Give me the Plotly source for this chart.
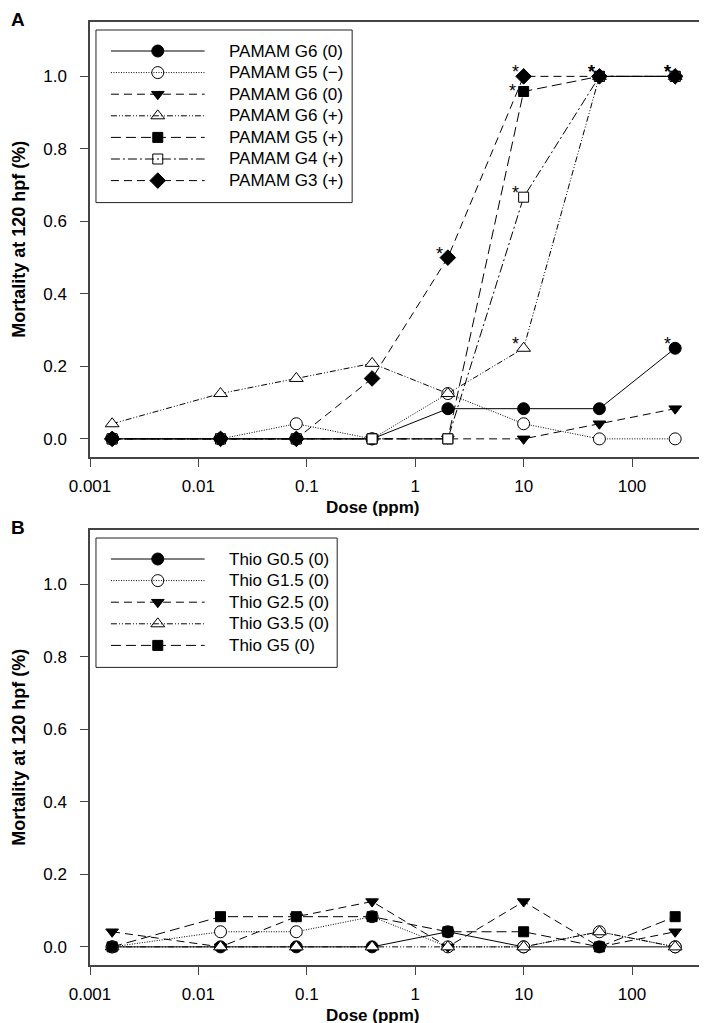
import math
import plotly.graph_objects as go

dose = [0.0016, 0.016, 0.08, 0.4, 2, 10, 50, 250]

pamam_names = ["PAMAM G6 (0)", "PAMAM G5 (\u2212)", "PAMAM G6 (0)", "PAMAM G6 (+)",
               "PAMAM G5 (+)", "PAMAM G4 (+)", "PAMAM G3 (+)"]
pamam_g6_0 = [0, 0, 0, 0, 0.0833, 0.0833, 0.0833, 0.25]
pamam_g5_neg = [0, 0, 0.0417, 0, 0.125, 0.0417, 0, 0]
pamam_g6_0b = [0, 0, 0, 0, 0, 0, 0.0417, 0.0833]
pamam_g6_pos = [0.0417, 0.125, 0.1667, 0.2083, 0.125, 0.25, 1.0, 1.0]
pamam_g5_pos = [0, 0, 0, 0, 0, 0.9583, 1.0, 1.0]
pamam_g4_pos = [0, 0, 0, 0, 0, 0.6667, 1.0, 1.0]
pamam_g3_pos = [0, 0, 0, 0.1667, 0.5, 1.0, 1.0, 1.0]
pamam_vals = [pamam_g6_0, pamam_g5_neg, pamam_g6_0b, pamam_g6_pos,
              pamam_g5_pos, pamam_g4_pos, pamam_g3_pos]
# dose indices marked with * (significant)
pamam_sig = [[7], [], [], [5, 6, 7], [5, 6, 7], [5, 6, 7], [4, 5, 6, 7]]

thio_names = ["Thio G0.5 (0)", "Thio G1.5 (0)", "Thio G2.5 (0)", "Thio G3.5 (0)", "Thio G5 (0)"]
thio_g05 = [0, 0, 0, 0, 0.0417, 0, 0, 0]
thio_g15 = [0, 0.0417, 0.0417, 0.0833, 0, 0, 0.0417, 0]
thio_g25 = [0.0417, 0, 0.0833, 0.125, 0, 0.125, 0, 0.0417]
thio_g35 = [0, 0, 0, 0, 0, 0, 0.0417, 0]
thio_g5 = [0, 0.0833, 0.0833, 0.0833, 0.0417, 0.0417, 0, 0.0833]
thio_vals = [thio_g05, thio_g15, thio_g25, thio_g35, thio_g5]

x_ticks = [0.001, 0.01, 0.1, 1, 10, 100]
x_ticktext = ["0.001", "0.01", "0.1", "1", "10", "100"]
y_ticks = [0, 0.2, 0.4, 0.6, 0.8, 1.0]

FONT = "Arial, Liberation Sans, sans-serif"

# (symbol, fill, dash) per series position
styles = [
    ("circle", "black", "solid"),
    ("circle", "white", "1px,1.5px"),
    ("triangle-down", "black", "8px,5px"),
    ("triangle-up", "white", "6px,2px,1px,2px,1px,2px"),
    ("square", "black", "10px,5px"),
    ("square", "white", "9px,3px,2px,3px"),
    ("diamond", "black", "8px,5px"),
]
sizes = {"circle": 12, "triangle-down": 11, "triangle-up": 12, "square": 10, "diamond": 12}

# plot area in pixels
L, R, T, B = 82, 703, 14, 957


def px(x):
    return (x - L) / (R - L)


def py(y):
    return (B - y) / (B - T)


fig = go.Figure()


def marker_of(i):
    sym, fill, dash = styles[i]
    return dict(symbol=sym, size=sizes[sym], color=fill, line=dict(color="black", width=1))


def add_series(names, vals, xa, ya):
    for i, (nm, v) in enumerate(zip(names, vals)):
        fig.add_trace(go.Scatter(
            x=dose, y=v, name=nm, mode="lines+markers", xaxis=xa, yaxis=ya, showlegend=False,
            line=dict(color="black", width=1, dash=styles[i][2]), marker=marker_of(i),
        ))


add_series(pamam_names, pamam_vals, "x", "y")
add_series(thio_names, thio_vals, "x2", "y2")

# asterisks sit up-left of the point; one that would clash with a star just above goes more to the left
for v, sig in zip(pamam_vals, pamam_sig):
    for j in sig:
        crowded = any(0 < w[j] - v[j] < 0.1 and j in s for w, s in zip(pamam_vals, pamam_sig))
        fig.add_annotation(x=math.log10(dose[j]), y=v[j], xref="x", yref="y", text="*",
                           showarrow=False, font=dict(family=FONT, size=18, color="black"),
                           xshift=-11 if crowded else -8, yshift=0 if crowded else 4)


# hand-drawn legends (long line samples, tight rows like the original)
def add_legend(names, top, right):
    row0, step = top + 21, 21.6
    bottom = row0 + step * (len(names) - 1) + 22
    fig.add_shape(type="rect", xref="paper", yref="paper", x0=px(88), x1=px(right),
                  y0=py(top), y1=py(bottom), line=dict(color="#222", width=1))
    for i, nm in enumerate(names):
        yr = row0 + step * i
        fig.add_shape(type="line", xref="paper", yref="paper", x0=px(103), x1=px(197),
                      y0=py(yr), y1=py(yr), line=dict(color="black", width=1, dash=styles[i][2]))
        fig.add_annotation(text=nm, xref="paper", yref="paper", x=px(219), y=py(yr),
                           xanchor="left", yanchor="middle", showarrow=False,
                           font=dict(family=FONT, size=17, color="black"))
        fig.add_trace(go.Scatter(x=[150], y=[yr], mode="markers", xaxis="x3", yaxis="y3",
                                 showlegend=False, hoverinfo="skip", marker=marker_of(i)))


add_legend(pamam_names, 22, 345)
add_legend(thio_names, 530, 330)

axis_common = dict(showline=True, mirror=True, linecolor="#444", linewidth=1.5,
                   ticks="outside", ticklen=8, tickcolor="#444", tickwidth=1,
                   showgrid=False, zeroline=False,
                   tickfont=dict(family=FONT, size=17, color="black"))
xcommon = dict(axis_common, type="log", range=[-3, 2.71], tickvals=x_ticks,
               ticktext=x_ticktext, ticklabelstandoff=5)
ycommon = dict(axis_common, range=[-0.05, 1.15], tickvals=y_ticks, tickformat=".1f",
               ticklabelstandoff=10)

fig.update_layout(
    width=707, height=1023,
    margin=dict(l=L, r=707 - R, t=T, b=1023 - B),
    plot_bgcolor="rgba(0,0,0,0)", paper_bgcolor="white",
    showlegend=False,
    xaxis=dict(xcommon, anchor="y"),
    yaxis=dict(ycommon, domain=[py(449), 1.0], anchor="x"),
    xaxis2=dict(xcommon, anchor="y2"),
    yaxis2=dict(ycommon, domain=[0.0, py(522)], anchor="x2"),
    xaxis3=dict(domain=[0, 1], range=[L, R], visible=False, anchor="y3"),
    yaxis3=dict(domain=[0, 1], range=[B, T], visible=False, anchor="x3"),
    font=dict(family=FONT, color="black"),
)

# panel letters and axis titles
for letter, ypx in [("A", 11), ("B", 519)]:
    fig.add_annotation(text="<b>%s</b>" % letter, xref="paper", yref="paper",
                       x=px(1), y=py(ypx), xanchor="left", yanchor="middle",
                       showarrow=False, font=dict(family=FONT, size=19, color="black"))
for ymid in [231.5, 739.5]:
    fig.add_annotation(text="<b>Mortality at 120 hpf (%)</b>", xref="paper", yref="paper",
                       x=px(10), y=py(ymid), textangle=-90,
                       xanchor="center", yanchor="middle", showarrow=False,
                       font=dict(family=FONT, size=18, color="black"))
for ypx in [499, 1007]:
    fig.add_annotation(text="<b>Dose (ppm)</b>", xref="paper", yref="paper",
                       x=px(366), y=py(ypx),
                       xanchor="center", yanchor="middle", showarrow=False,
                       font=dict(family=FONT, size=17, color="black"))

fig.write_html("out.html")
